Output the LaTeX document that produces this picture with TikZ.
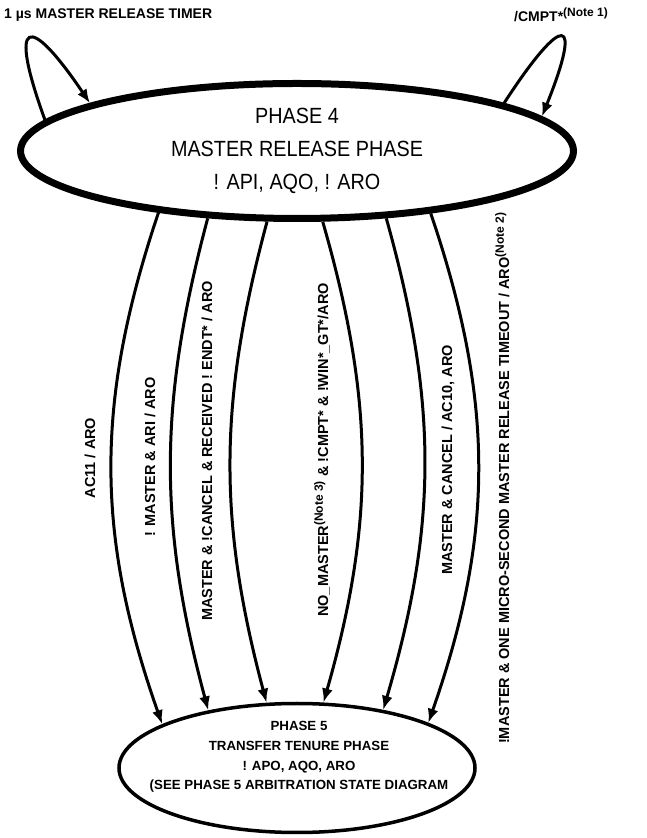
\documentclass[tikz,border=0pt]{standalone}
\usepackage{fontspec}
\setmainfont{Liberation Sans}
\newfontfamily\narrowfont[FakeStretch=0.9]{Liberation Sans}
\usetikzlibrary{shapes.geometric,arrows.meta}
\newcommand\notetag[1]{\textsuperscript{\fontsize{12}{12}\selectfont(#1)}}

\begin{document}
\begin{tikzpicture}[x=1pt,y=1pt,
  state/.style={draw,ellipse,inner sep=0pt},
  trans/.style={line width=3pt,-{Latex[length=14pt,width=11pt]}},
  cond/.style={font=\bfseries\fontsize{14.5}{16}\selectfont,rotate=90,anchor=base,inner sep=0pt},
  toptext/.style={font=\bfseries\fontsize{14}{15}\selectfont,anchor=west,inner sep=0pt}]
\useasboundingbox (0,0) rectangle (646,838);
\node[state,line width=7pt,minimum width=553pt,minimum height=135pt,align=center,
  font=\narrowfont\fontsize{22}{33}\selectfont] (p4) at (297,687) {PHASE 4\\MASTER RELEASE PHASE\\! API, AQO, ! ARO};
\node[state,line width=3.5pt,minimum width=356pt,minimum height=129pt] (p5) at (297,70) {};
\node[align=center,font=\bfseries\fontsize{13.3}{19.7}\selectfont] (p5txt) at (299,81) {PHASE 5\\TRANSFER TENURE PHASE\\! APO, AQO, ARO\\(SEE PHASE 5 ARBITRATION STATE DIAGRAM};
\draw[trans] (p4.173) to[out=110,in=124,distance=110pt] (p4.167);
\draw[trans] (p4.13) to[out=57,in=68,distance=110pt] (p4.8);
\node[toptext] (tmr) at (4,823) {1 µs MASTER RELEASE TIMER};
\node[toptext] (cmpt) at (514,823) {/CMPT*\notetag{Note 1}};
\foreach \a/\b/\c in {204/162/-19, 217/147/-15, 247/115/-15, 290/68/16, 323/34/16, 335/19/19}
  \draw[trans] (p4.\a) to[bend left=\c] (p5.\b);
\node[cond] (c1) at (95,380) {AC11 / ARO};
\node[cond] (c2) at (155,381) {! MASTER \& ARI / ARO};
\node[cond] (c3) at (212,387) {MASTER \& !CANCEL \& RECEIVED ! ENDT* / ARO};
\node[cond] (c4) at (328,388) {NO\_MASTER\notetag{Note 3} \& !CMPT* \& !WIN*\_GT*/ARO};
\node[cond] (c5) at (452,378) {MASTER \& CANCEL / AC10, ARO};
\node[cond] (c6) at (509,360) {!MASTER \& ONE MICRO-SECOND MASTER RELEASE TIMEOUT / ARO\notetag{Note 2}};
\end{tikzpicture}
\end{document}
